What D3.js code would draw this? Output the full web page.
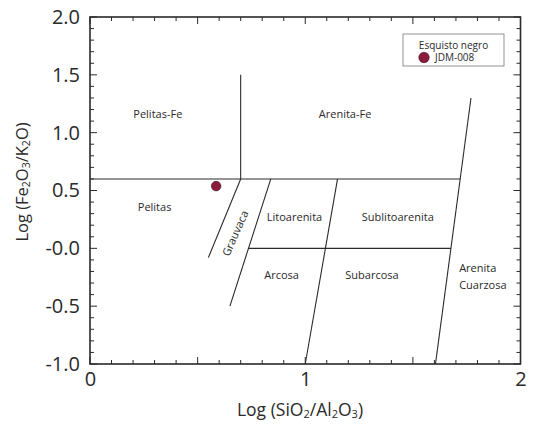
<!DOCTYPE html>
<html>
<head>
<meta charset="utf-8">
<script src="https://cdn.jsdelivr.net/npm/d3@7"></script>
<style>
  html, body { margin: 0; padding: 0; background: #fff; }
  svg { display: block; font-family: "Open Sans", "Lato", sans-serif; }
</style>
</head>
<body>
<svg id="chart" width="535" height="424"></svg>
<script>
// ---- Data ----
const xTicks = [0, 1, 2];
const xTickLabels = ["0", "1", "2"];
const yTicks = [-1.0, -0.5, 0.0, 0.5, 1.0, 1.5, 2.0];
const yTickLabels = ["-1.0", "-0.5", "-0.0", "0.5", "1.0", "1.5", "2.0"];

// classification field boundaries [x1, y1, x2, y2] in data units
const boundaries = [
  [0.00, 0.60, 1.72, 0.60],
  [0.70, 0.60, 0.70, 1.50],
  [0.70, 0.60, 0.55, -0.08],
  [0.84, 0.60, 0.65, -0.50],
  [0.736, 0.00, 1.677, 0.00],
  [1.15, 0.60, 1.00, -1.00],
  [1.605, -1.00, 1.77, 1.30]
];

// field labels
const fieldNames = ["Pelitas-Fe", "Arenita-Fe", "Pelitas", "Grauvaca", "Litoarenita", "Sublitoarenita", "Arcosa", "Subarcosa", "Arenita", "Cuarzosa"];
const fieldX = [0.315, 1.185, 0.30, 0.675, 0.95, 1.43, 0.89, 1.31, 1.715, 1.715];
const fieldY = [1.16, 1.16, 0.36, 0.13, 0.27, 0.27, -0.23, -0.23, -0.17, -0.32];
const fieldRot = [0, 0, 0, -66, 0, 0, 0, 0, 0, 0];
const fieldAnchor = ["middle", "middle", "middle", "middle", "middle", "middle", "middle", "middle", "start", "start"];

// samples
const sampleNames = ["JDM-008"];
const sampleX = [0.586];
const sampleY = [0.538];
const groupName = "Esquisto negro";

// ---- Layout ----
const svg = d3.select("#chart");
const x = d3.scaleLinear().domain([0, 2]).range([90, 520.5]);
const y = d3.scaleLinear().domain([-1, 2]).range([364, 17]);
const ink = "#2a2a2a";
const dotFill = "#8b1c3c";

// minor/major ticks inward on all four sides
const xMinor = d3.range(0, 2.0001, 0.1);
const yMinor = d3.range(-1, 2.0001, 0.1);
const isMajor = v => Math.abs(v * 2 - Math.round(v * 2)) < 1e-6;

const tickG = svg.append("g").attr("stroke", ink).attr("stroke-width", 1);
xMinor.forEach(v => {
  const len = isMajor(v) ? 7 : 4;
  tickG.append("line").attr("x1", x(v)).attr("x2", x(v)).attr("y1", y(-1)).attr("y2", y(-1) - len);
  tickG.append("line").attr("x1", x(v)).attr("x2", x(v)).attr("y1", y(2)).attr("y2", y(2) + len);
});
yMinor.forEach(v => {
  const len = isMajor(v) ? 7 : 4;
  tickG.append("line").attr("y1", y(v)).attr("y2", y(v)).attr("x1", x(0)).attr("x2", x(0) + len);
  tickG.append("line").attr("y1", y(v)).attr("y2", y(v)).attr("x1", x(2)).attr("x2", x(2) - len);
});

// frame
svg.append("rect")
  .attr("x", x(0)).attr("y", y(2))
  .attr("width", x(2) - x(0)).attr("height", y(-1) - y(2))
  .attr("fill", "none").attr("stroke", ink).attr("stroke-width", 1.6);

// tick labels via d3 axes
const xAxis = d3.axisBottom(x).tickValues(xTicks).tickFormat((d, i) => xTickLabels[i]).tickSize(0).tickPadding(8);
const gx = svg.append("g").attr("transform", `translate(0,${y(-1)})`).call(xAxis);
gx.select(".domain").remove();
gx.selectAll("text").attr("font-size", 20).attr("fill", ink).attr("font-family", "Open Sans, sans-serif");

const yAxis = d3.axisLeft(y).tickValues(yTicks).tickFormat((d, i) => yTickLabels[i]).tickSize(0).tickPadding(10);
const gy = svg.append("g").attr("transform", `translate(${x(0)},0)`).call(yAxis);
gy.select(".domain").remove();
gy.selectAll("text").attr("font-size", 20).attr("fill", ink).attr("font-family", "Open Sans, sans-serif");

// boundaries
svg.append("g").selectAll("line").data(boundaries).join("line")
  .attr("x1", d => x(d[0])).attr("y1", d => y(d[1]))
  .attr("x2", d => x(d[2])).attr("y2", d => y(d[3]))
  .attr("stroke", ink).attr("stroke-width", 1.1);

// field labels
svg.append("g").selectAll("text").data(fieldNames).join("text")
  .attr("transform", (d, i) => `translate(${x(fieldX[i])},${y(fieldY[i])}) rotate(${fieldRot[i]})`)
  .attr("text-anchor", (d, i) => fieldAnchor[i])
  .attr("dy", "0.35em")
  .attr("font-size", 11).attr("fill", ink)
  .text(d => d);

// sample points
svg.append("g").selectAll("circle").data(sampleNames).join("circle")
  .attr("cx", (d, i) => x(sampleX[i])).attr("cy", (d, i) => y(sampleY[i]))
  .attr("r", 4.8).attr("fill", dotFill).attr("stroke", "#3a0a18").attr("stroke-width", 0.6);

// axis titles
const xt = svg.append("text").attr("x", 300).attr("y", 416).attr("text-anchor", "middle")
  .attr("font-size", 17.5).attr("fill", ink);
xt.append("tspan").text("Log (SiO");
xt.append("tspan").text("2").attr("font-size", 11).attr("dy", 2);
xt.append("tspan").text("/Al").attr("dy", -2);
xt.append("tspan").text("2").attr("font-size", 11).attr("dy", 2);
xt.append("tspan").text("O").attr("dy", -2);
xt.append("tspan").text("3").attr("font-size", 11).attr("dy", 2);
xt.append("tspan").text(")").attr("dy", -2);

const yt = svg.append("text").attr("transform", "translate(28,182) rotate(-90)").attr("text-anchor", "middle")
  .attr("font-size", 16.5).attr("fill", ink);
yt.append("tspan").text("Log (Fe");
yt.append("tspan").text("2").attr("font-size", 10.5).attr("dy", 2);
yt.append("tspan").text("O").attr("dy", -2);
yt.append("tspan").text("3").attr("font-size", 10.5).attr("dy", 2);
yt.append("tspan").text("/K").attr("dy", -2);
yt.append("tspan").text("2").attr("font-size", 10.5).attr("dy", 2);
yt.append("tspan").text("O)").attr("dy", -2);

// legend
const lg = svg.append("g").attr("transform", "translate(403,34)");
lg.append("rect").attr("width", 101).attr("height", 32).attr("fill", "#fff")
  .attr("stroke", "#777").attr("stroke-width", 0.8);
lg.append("text").attr("x", 50.5).attr("y", 11).attr("dy", "0.35em").attr("text-anchor", "middle")
  .attr("font-size", 10).attr("fill", ink).text(groupName);
lg.selectAll("g.item").data(sampleNames).join("g").attr("class", "item")
  .each(function (d) {
    const g = d3.select(this);
    g.append("circle").attr("cx", 21).attr("cy", 23.5).attr("r", 5.2)
      .attr("fill", dotFill).attr("stroke", "#3a0a18").attr("stroke-width", 0.6);
    g.append("text").attr("x", 32).attr("y", 23.5).attr("dy", "0.35em")
      .attr("font-size", 10).attr("fill", ink).text(d);
  });
</script>
</body>
</html>
